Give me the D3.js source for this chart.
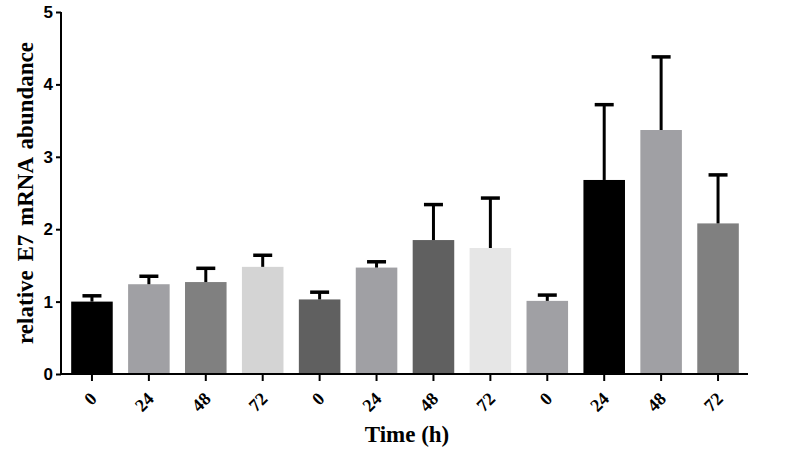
<!DOCTYPE html>
<html>
<head>
<meta charset="utf-8">
<script src="https://cdn.jsdelivr.net/npm/d3@7"></script>
<style>
  html, body { margin: 0; padding: 0; background: #fff; }
  svg { display: block; }
</style>
</head>
<body>
<div id="chart"></div>
<script>
// time points (h), three groups of four
const timeLabels = ["0", "24", "48", "72", "0", "24", "48", "72", "0", "24", "48", "72"];
const means = [1.00, 1.24, 1.27, 1.48, 1.03, 1.47, 1.85, 1.74, 1.01, 2.68, 3.37, 2.08];
const errorTops = [1.08, 1.35, 1.46, 1.64, 1.13, 1.55, 2.34, 2.43, 1.09, 3.72, 4.38, 2.75];
const barColors = ["#000000", "#a0a0a4", "#808080", "#d4d4d4", "#606060", "#a0a0a4",
                   "#606060", "#e6e6e6", "#a0a0a4", "#000000", "#a0a0a4", "#808080"];
const yTicks = [0, 1, 2, 3, 4, 5];

const W = 796, H = 452;
const serif = "'Liberation Serif', 'Times New Roman', serif";
const sans = "'Liberation Sans', Arial, sans-serif";

const svg = d3.select("#chart").append("svg")
    .attr("width", W)
    .attr("height", H);

const data = means.map((m, i) => ({ i: i, label: timeLabels[i], mean: m, top: errorTops[i], color: barColors[i] }));

const x = d3.scaleBand()
    .domain(data.map(d => d.i))
    .range([63.5, 746.5])
    .paddingInner(0.27)
    .paddingOuter(0.135);

const y = d3.scaleLinear()
    .domain([0, 5])
    .range([374, 12]);

const xAxisLeft = 61, xAxisRight = 748;

// bars
svg.append("g")
    .selectAll("rect")
    .data(data)
    .enter()
    .append("rect")
    .attr("x", d => x(d.i))
    .attr("width", x.bandwidth())
    .attr("y", d => y(d.mean))
    .attr("height", d => y(0) - y(d.mean))
    .style("fill", d => d.color);

// error bars (upper only)
const err = svg.append("g").attr("class", "err");
err.selectAll("line.stem")
    .data(data)
    .enter()
    .append("line")
    .attr("class", "stem")
    .attr("x1", d => x(d.i) + x.bandwidth() / 2)
    .attr("x2", d => x(d.i) + x.bandwidth() / 2)
    .attr("y1", d => y(d.mean))
    .attr("y2", d => y(d.top))
    .style("stroke", "#000")
    .style("stroke-width", 3);
err.selectAll("line.cap")
    .data(data)
    .enter()
    .append("line")
    .attr("class", "cap")
    .attr("x1", d => x(d.i) + x.bandwidth() / 2 - 9.5)
    .attr("x2", d => x(d.i) + x.bandwidth() / 2 + 9.5)
    .attr("y1", d => y(d.top))
    .attr("y2", d => y(d.top))
    .style("stroke", "#000")
    .style("stroke-width", 3.5);

// y axis
const yAxis = svg.append("g")
    .attr("transform", `translate(${xAxisLeft}, 0)`)
    .call(d3.axisLeft(y).tickValues(yTicks).tickFormat(d3.format("d")).tickSize(5).tickPadding(3));
yAxis.select("path.domain")
    .attr("d", `M0,${y(5)}V${y(0) + 1}`)
    .style("stroke", "#000")
    .style("stroke-width", 2);
yAxis.selectAll(".tick line").style("stroke", "#000").style("stroke-width", 2);
yAxis.selectAll(".tick text")
    .style("font-family", sans)
    .style("font-weight", "bold")
    .style("font-size", "17px")
    .style("fill", "#000");

// x axis
const xAxis = svg.append("g")
    .attr("transform", `translate(0, ${y(0)})`)
    .call(d3.axisBottom(x).tickSize(7).tickFormat(i => timeLabels[i]));
xAxis.select("path.domain")
    .attr("d", `M${xAxisLeft - 1},0H${xAxisRight}`)
    .style("stroke", "#000")
    .style("stroke-width", 2);
xAxis.selectAll(".tick line").style("stroke", "#000").style("stroke-width", 2);
xAxis.selectAll(".tick text")
    .attr("y", 0)
    .attr("dy", 0)
    .attr("transform", "translate(6, 26) rotate(-45)")
    .style("text-anchor", "end")
    .style("font-family", serif)
    .style("font-weight", "bold")
    .style("font-size", "18px")
    .style("fill", "#000");

// axis titles
svg.append("text")
    .attr("transform", `translate(33, ${(y(0) + y(5)) / 2}) rotate(-90)`)
    .attr("text-anchor", "middle")
    .style("font-family", serif)
    .style("font-weight", "bold")
    .style("font-size", "23px")
    .style("word-spacing", "3px")
    .text("relative E7 mRNA abundance");

svg.append("text")
    .attr("x", 407)
    .attr("y", 442)
    .attr("text-anchor", "middle")
    .style("font-family", serif)
    .style("font-weight", "bold")
    .style("font-size", "23px")
    .text("Time (h)");
</script>
</body>
</html>
